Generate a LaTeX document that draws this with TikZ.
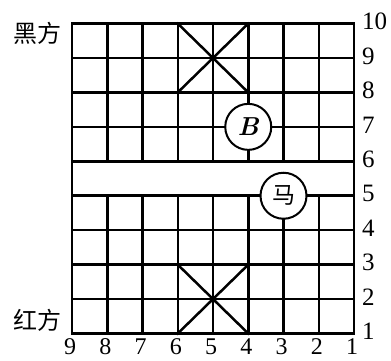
\documentclass[tikz,border=0pt]{standalone}
\usepackage{fontspec}
\newfontfamily\cjk{Noto Sans CJK SC}
\newfontfamily\numfont{Liberation Serif}
\begin{document}
\begin{tikzpicture}[x=1pt,y=-1pt,
  grid/.style={line width=2.5pt,line cap=rect,line join=miter},
  piece/.style={circle,draw,line width=2pt,fill=white,minimum size=46pt,inner sep=0pt},
  num/.style={inner sep=0pt,font=\numfont\fontsize{25}{25}\selectfont},
  side/.style={inner sep=0pt,font=\cjk\fontsize{24}{24}\selectfont}]
\useasboundingbox (0,0) rectangle (391,360);
\foreach \c in {1,...,9}
  \foreach \r in {1,...,10}
    \coordinate (p\c-\r) at ({354-35.25*(\c-1)},{333.5-34.44*(\r-1)});
% board
\draw[grid] (p9-1) rectangle (p1-10);
\foreach \r in {2,...,9} \draw[grid] (p9-\r) -- (p1-\r);
\foreach \c in {2,...,8} {
  \draw[grid] (p\c-1) -- (p\c-5);
  \draw[grid] (p\c-6) -- (p\c-10);
}
% palaces
\draw[grid] (p6-1) -- (p4-3) (p4-1) -- (p6-3);
\draw[grid] (p6-8) -- (p4-10) (p4-8) -- (p6-10);
% pieces
\node[piece,font=\fontsize{26}{26}\selectfont\bfseries\itshape] (B) at (p4-7) {B};
\node[piece,font=\cjk\fontsize{23}{23}\selectfont] (ma) at (p3-5) {马};
% column numbers
\foreach \c in {1,...,9}
  \node[num,font=\numfont\fontsize{24}{24}\selectfont] (col\c) at ([xshift=-2pt,yshift=-13pt]p\c-1) {\c};
% row numbers
\foreach \r in {1,...,10}
  \node[num,anchor=west] (row\r) at ([xshift=8pt,yshift=2pt]p1-\r) {\r};
% sides
\node[side] (hei) at (37,33) {黑方};
\node[side] (hong) at (37.5,320) {红方};
\end{tikzpicture}
\end{document}
